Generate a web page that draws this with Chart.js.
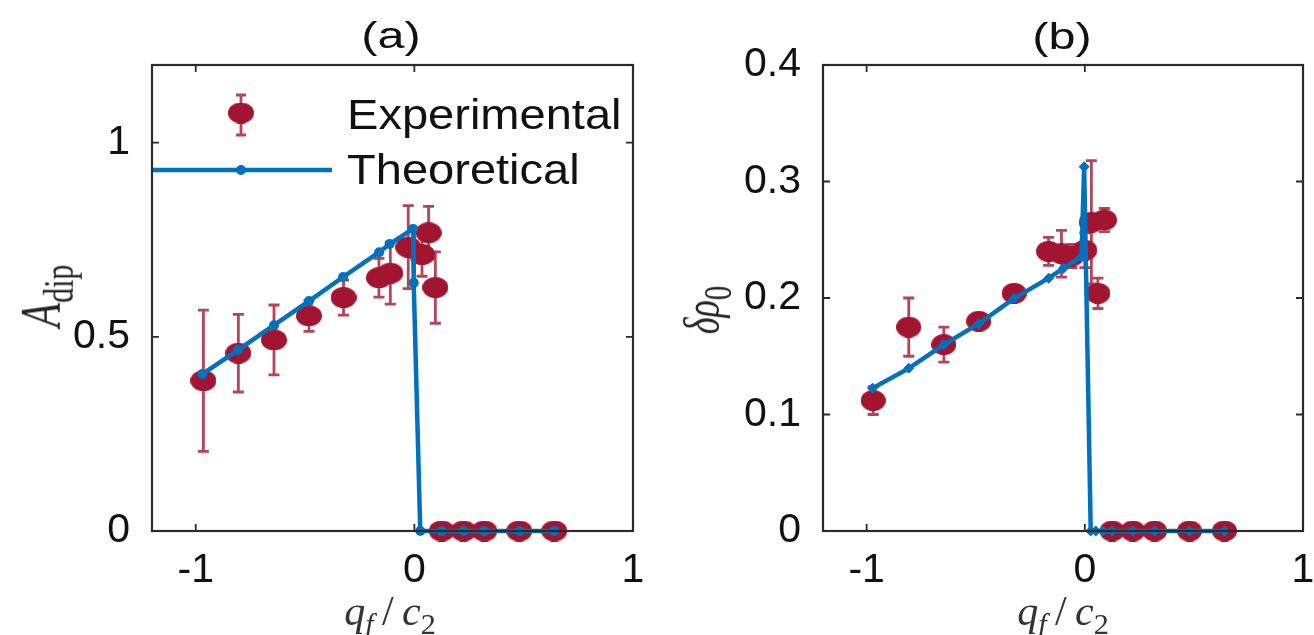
<!DOCTYPE html>
<html>
<head>
<meta charset="utf-8">
<script src="https://cdn.jsdelivr.net/npm/chart.js"></script>
<style>
  html, body { margin: 0; padding: 0; background: #fff; }
  body { width: 1314px; height: 635px; position: relative; overflow: hidden; font-family: "Liberation Sans", Arial, sans-serif; }
  .panel { position: absolute; top: 0; height: 635px; }
  .txt { position: absolute; white-space: nowrap; color: #111; line-height: 1; transform-origin: 0 0; }
  .serif { font-family: "Liberation Serif", "Times New Roman", serif; }
  .serif i { font-style: italic; }
  .serif sub { line-height: 0; vertical-align: -0.3em; font-size: 0.72em; }
  .anchor { position: absolute; width: 0; height: 0; }
  .anchor > div { position: absolute; left: 0; top: 0; white-space: nowrap; line-height: 1; transform-origin: 0 0; color: #222; }
</style>
</head>
<body>
<div class="panel" style="left:0;width:660px"><canvas id="chartA"></canvas></div>
<div class="panel" style="left:660px;width:654px"><canvas id="chartB"></canvas></div>

<!-- panel titles -->
<div class="txt" style="left:391px;top:18px;font-size:36px;transform:scaleX(1.35) translateX(-50%);">(a)</div>
<div class="txt" style="left:1062px;top:19px;font-size:36px;transform:scaleX(1.35) translateX(-50%);">(b)</div>

<!-- legend texts -->
<div class="txt" style="left:347px;top:94px;font-size:42px;transform:scaleX(1.12);">Experimental</div>
<div class="txt" style="left:347px;top:149px;font-size:42px;transform:scaleX(1.12);">Theoretical</div>

<!-- x axis titles -->
<div class="txt serif" style="left:390px;top:590px;font-size:42px;color:#333;transform:translateX(-50%);"><i>q</i><sub><i>f</i></sub>&thinsp;/&thinsp;<i>c</i><sub>2</sub></div>
<div class="txt serif" style="left:1063px;top:590px;font-size:42px;color:#333;transform:translateX(-50%);"><i>q</i><sub><i>f</i></sub>&thinsp;/&thinsp;<i>c</i><sub>2</sub></div>

<!-- y axis titles (rotated) -->
<div class="anchor" style="left:42px;top:296px;">
  <div class="serif" style="font-size:40px;transform:scaleX(1.4) rotate(-90deg) translate(-50%,-50%);"><i>A</i><sub style="font-size:0.75em">dip</sub></div>
</div>
<div class="anchor" style="left:702px;top:310px;">
  <div class="serif" style="font-size:36px;transform:scaleX(1.4) rotate(-90deg) translate(-50%,-50%);"><i>δρ</i><sub style="font-size:0.8em">0</sub></div>
</div>

<script>
// ---- data, panel (a) ----
const expAX   = [-0.965, -0.805, -0.642, -0.482, -0.324, -0.162, -0.11, -0.028, 0.035, 0.065, 0.096, 0.125, 0.225, 0.32, 0.48, 0.64];
const expAY   = [0.387, 0.458, 0.492, 0.554, 0.601, 0.652, 0.664, 0.731, 0.712, 0.768, 0.627, 0, 0, 0, 0, 0];
const expAErr = [0.182, 0.10, 0.09, 0.04, 0.045, 0.05, 0.08, 0.107, 0.056, 0.068, 0.092, 0, 0, 0, 0, 0];
const thAX    = [-0.97, -0.807, -0.642, -0.482, -0.326, -0.161, -0.113, -0.006, -0.003, 0.027, 0.125, 0.225, 0.32, 0.48, 0.64];
const thAY    = [0.404, 0.466, 0.530, 0.592, 0.654, 0.718, 0.739, 0.778, 0.639, 0, 0, 0, 0, 0, 0];

// ---- data, panel (b) ----
const expBX   = [-0.97, -0.807, -0.646, -0.486, -0.324, -0.166, -0.107, -0.06, 0.0, 0.03, 0.06, 0.09, 0.125, 0.22, 0.32, 0.48, 0.64];
const expBY   = [0.112, 0.175, 0.160, 0.180, 0.204, 0.240, 0.238, 0.236, 0.241, 0.265, 0.204, 0.267, 0, 0, 0, 0, 0];
const expBErr = [0.012, 0.025, 0.015, 0.005, 0.005, 0.012, 0.02, 0.01, 0.015, 0.053, 0.013, 0.01, 0, 0, 0, 0, 0];
const thBX    = [-0.973, -0.807, -0.646, -0.486, -0.324, -0.166, -0.098, -0.015, -0.003, 0.027, 0.05, 0.083, 0.125, 0.22, 0.32, 0.48, 0.64];
const thBY    = [0.1225, 0.1396, 0.160, 0.178, 0.1997, 0.217, 0.2255, 0.2355, 0.3127, 0, 0, 0, 0, 0, 0, 0, 0];

// ---- ticks ----
const xTicks  = [-1, 0, 1];
const yTicksA = [0, 0.5, 1];
const yTicksB = [0, 0.1, 0.2, 0.3, 0.4];

const RED = '#A2142F';
const BLUE = '#0072BD';
const ERR = 'rgba(162,20,47,0.8)';

function ellipseMarker(w, h) {
    const c = document.createElement('canvas');
    c.width = w; c.height = h;
    const g = c.getContext('2d');
    g.fillStyle = RED;
    g.beginPath();
    g.ellipse(w / 2, h / 2, w / 2, h / 2, 0, 0, Math.PI * 2);
    g.fill();
    return c;
}

function zip(xs, ys) {
    return xs.map((x, i) => ({ x: x, y: ys[i] }));
}

function drawErr(ctx, px, top, bot, cap) {
    ctx.beginPath();
    ctx.moveTo(px, top); ctx.lineTo(px, bot);
    ctx.moveTo(px - cap, top); ctx.lineTo(px + cap, top);
    ctx.moveTo(px - cap, bot); ctx.lineTo(px + cap, bot);
    ctx.stroke();
}

function errorBars(xs, ys, errs) {
    return {
        id: 'errorBars',
        beforeDatasetsDraw(chart) {
            const { ctx, scales: { x, y } } = chart;
            ctx.save();
            ctx.strokeStyle = ERR;
            ctx.lineWidth = 2.8;
            xs.forEach((xv, i) => {
                if (!errs[i]) return;
                drawErr(ctx, x.getPixelForValue(xv),
                    y.getPixelForValue(ys[i] + errs[i]),
                    y.getPixelForValue(ys[i] - errs[i]), 5.5);
            });
            ctx.restore();
        }
    };
}

// axes box with inward ticks on all four sides
function frame(xt, yt) {
    return {
        id: 'frame',
        afterDraw(chart) {
            const { ctx, chartArea: a, scales: { x, y } } = chart;
            ctx.save();
            ctx.strokeStyle = '#2b2b2b';
            ctx.lineWidth = 2.2;
            ctx.strokeRect(a.left, a.top, a.right - a.left, a.bottom - a.top);
            ctx.lineWidth = 1.8;
            ctx.beginPath();
            xt.forEach(v => {
                const px = x.getPixelForValue(v);
                ctx.moveTo(px, a.bottom); ctx.lineTo(px, a.bottom - 7);
                ctx.moveTo(px, a.top); ctx.lineTo(px, a.top + 7);
            });
            yt.forEach(v => {
                const py = y.getPixelForValue(v);
                ctx.moveTo(a.left, py); ctx.lineTo(a.left + 7, py);
                ctx.moveTo(a.right, py); ctx.lineTo(a.right - 7, py);
            });
            ctx.stroke();
            ctx.restore();
        }
    };
}

const markerA = ellipseMarker(26, 21);
const markerB = ellipseMarker(25, 21);

// legend marks of panel (a)
const legendA = {
    id: 'legendA',
    afterDatasetsDraw(chart) {
        const ctx = chart.ctx;
        const left = chart.chartArea.left;
        ctx.save();
        ctx.strokeStyle = ERR;
        ctx.lineWidth = 2.8;
        drawErr(ctx, 241, 95, 135, 5);
        ctx.drawImage(markerA, 241 - 13, 113 - 10.5);
        ctx.strokeStyle = BLUE;
        ctx.lineWidth = 4.5;
        ctx.beginPath();
        ctx.moveTo(left, 170); ctx.lineTo(332, 170);
        ctx.stroke();
        ctx.fillStyle = BLUE;
        ctx.beginPath();
        ctx.arc(241, 170, 5, 0, Math.PI * 2);
        ctx.fill();
        ctx.restore();
    }
};

function buildChart(id, o) {
    const tickFont = { family: '"Liberation Sans", Arial, sans-serif', size: 41 };
    return new Chart(document.getElementById(id), {
        type: 'scatter',
        data: {
            datasets: [
                {
                    label: 'Theoretical',
                    data: zip(o.thX, o.thY),
                    showLine: true,
                    borderColor: BLUE,
                    borderWidth: 4.5,
                    backgroundColor: BLUE,
                    pointBackgroundColor: BLUE,
                    pointBorderWidth: 0,
                    pointStyle: o.thStyle,
                    pointRadius: o.thRadius,
                    clip: false,
                    order: 0
                },
                {
                    label: 'Experimental',
                    data: zip(o.expX, o.expY),
                    pointStyle: o.marker,
                    pointRadius: 10,
                    clip: false,
                    order: 1
                }
            ]
        },
        options: {
            responsive: true,
            maintainAspectRatio: false,
            animation: false,
            devicePixelRatio: 1,
            layout: { padding: { left: 0, right: o.padRight, top: 65, bottom: 0 } },
            plugins: { legend: { display: false }, tooltip: { enabled: false } },
            scales: {
                x: {
                    type: 'linear',
                    min: -1.2,
                    max: 1,
                    grid: { display: false },
                    border: { display: false },
                    afterBuildTicks: s => { s.ticks = xTicks.map(v => ({ value: v })); },
                    afterFit: s => { s.height = 104; s.paddingLeft = 0; s.paddingRight = 0; },
                    ticks: { font: tickFont, color: '#111', padding: 7, maxRotation: 0, callback: v => String(v) }
                },
                y: {
                    type: 'linear',
                    min: 0,
                    max: o.yMax,
                    grid: { display: false },
                    border: { display: false },
                    afterBuildTicks: s => { s.ticks = o.yTicks.map(v => ({ value: v })); },
                    afterFit: s => { s.width = o.yWidth; s.paddingTop = 0; s.paddingBottom = 0; },
                    ticks: { font: tickFont, color: '#111', padding: 14, callback: v => String(v) }
                }
            }
        },
        plugins: o.plugins
    });
}

buildChart('chartA', {
    thX: thAX, thY: thAY, expX: expAX, expY: expAY,
    marker: markerA, thStyle: 'circle', thRadius: 5,
    yMax: 1.2, yTicks: yTicksA, yWidth: 152, padRight: 27,
    plugins: [errorBars(expAX, expAY, expAErr), frame(xTicks, yTicksA), legendA]
});

buildChart('chartB', {
    thX: thBX, thY: thBY, expX: expBX, expY: expBY,
    marker: markerB, thStyle: 'rectRot', thRadius: 5.5,
    yMax: 0.4, yTicks: yTicksB, yWidth: 163, padRight: 9,
    plugins: [errorBars(expBX, expBY, expBErr), frame(xTicks, yTicksB)]
});
</script>
</body>
</html>
